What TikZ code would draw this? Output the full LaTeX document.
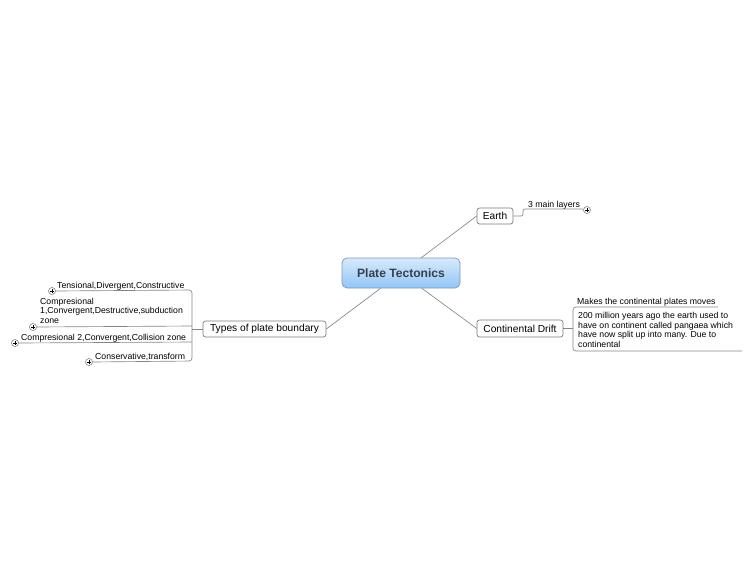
\documentclass[tikz,border=0pt]{standalone}
\usepackage{fontspec}
\setmainfont{Liberation Sans}
\definecolor{linec}{HTML}{858585}
\definecolor{boxc}{HTML}{7A7A7A}
\definecolor{cenb}{HTML}{7E98B2}
\definecolor{centop}{HTML}{D6EAFD}
\definecolor{cenbot}{HTML}{93C5F6}
\definecolor{centxt}{HTML}{36404D}
\definecolor{pluc}{HTML}{6E6E6E}
\begin{document}
\begin{tikzpicture}[x=1pt,y=-1pt,
  lnk/.style={draw=linec, line width=0.65pt},
  topic/.style={draw=boxc, fill=white, rounded corners=2.5pt, inner sep=0pt,
    font=\fontsize{10.2}{12}\selectfont, line width=0.65pt},
  leaf/.style={inner sep=0pt, anchor=base west, align=left,
    font=\fontsize{8.7}{9.5}\selectfont},
  plusic/.style={circle, draw=pluc, fill=white, minimum size=7pt, inner sep=0pt,
    line width=0.5pt,
    path picture={\draw[black, line width=0.7pt]
      ([xshift=-2pt]path picture bounding box.center) -- ([xshift=2pt]path picture bounding box.center)
      ([yshift=-2pt]path picture bounding box.center) -- ([yshift=2pt]path picture bounding box.center);}}
]
\useasboundingbox (0,0) rectangle (750,563);

% central topic
\node[draw=cenb, rounded corners=5pt, top color=centop, bottom color=cenbot,
  minimum width=118pt, minimum height=30pt, inner sep=0pt, line width=0.7pt,
  font=\bfseries\fontsize{12.1}{14}\selectfont, text=centxt] (c) at (401,273) {Plate Tectonics};

% main topics
\node[topic, minimum width=36pt, minimum height=16pt] (e) at (495,216) {Earth};
\node[topic, minimum width=86pt, minimum height=17pt] (cd) at (520,328.5) {Continental Drift};
\node[topic, minimum width=123pt, minimum height=16pt] (t) at (264.5,329) {Types of plate boundary};

\draw[lnk] (c) -- (e.west);
\draw[lnk] (c) -- (cd.west);
\draw[lnk] (c) -- (t.east);

% Earth subtopic
\coordinate (e1) at (583,209);
\draw[lnk, rounded corners=2pt] (e.east) -- (523,216) -- (523,209) -- (e1);
\node[plusic] (p0) at (587,210) {};
\node[leaf] (e1t) at (528,207) {3 main layers};

% Continental Drift subtopics
\coordinate (cdj) at (573,328.5);
\coordinate (cdt) at (718,307);
\coordinate (cdb) at (742,351);
\draw[lnk] (cd.east) -- (cdj);
\draw[lnk, rounded corners=3pt] (cdt) -- (573,307) -- (573,351) -- (cdb);
\node[leaf] (m1) at (577,304.5) {Makes the continental plates moves};
\node[leaf] (m2) at (578,347) {200 million years ago the earth used to\\have on continent called pangaea which\\have now split up into many. Due to\\continental};

% Types of plate boundary subtopics
\node[plusic] (p1) at (52,291) {};
\node[plusic] (p2) at (33,327) {};
\node[plusic] (p3) at (15,343) {};
\node[plusic] (p4) at (89,362) {};
\coordinate (tj) at (192,329);
\draw[lnk] (t.west) -- (tj);
\draw[lnk, rounded corners=3pt] (p1.east) -- (192,290) -- (192,361) -- (p4.east);
\draw[lnk] (p2.east) -- (192,326);
\draw[lnk] (p3.east) -- (192,342);
\node[leaf] (l1) at (57,288) {Tensional,Divergent,Constructive};
\node[leaf] (l2) at (40,323) {Compresional\\1,Convergent,Destructive,subduction\\zone};
\node[leaf] (l3) at (21,340) {Compresional 2,Convergent,Collision zone};
\node[leaf] (l4) at (95,359) {Conservative,transform};
\end{tikzpicture}
\end{document}
